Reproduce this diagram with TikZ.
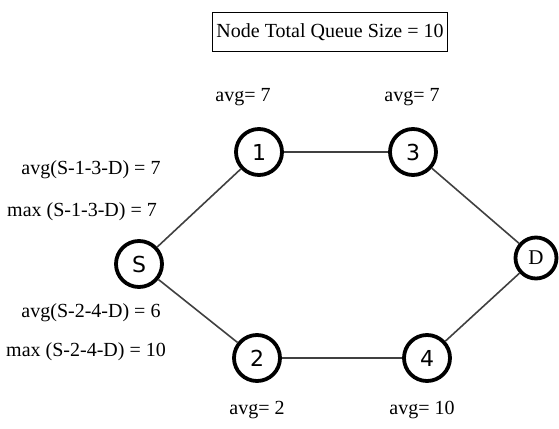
\documentclass[tikz,border=0pt]{standalone}
\usepackage{fontspec}
\setmainfont{Liberation Serif}
\newfontfamily\nodefont{DejaVu Sans}
\begin{document}
\begin{tikzpicture}[x=1pt,y=-1pt,
  vertex/.style={circle,draw=black,line width=3.8pt,minimum size=46pt,inner sep=0pt,
                 font=\nodefont\fontsize{22}{26}\selectfont},
  link/.style={draw=black!75,line width=1.6pt},
  lbl/.style={font=\fontsize{20}{24}\selectfont,inner sep=0pt},
  titlebox/.style={draw=black,line width=1.6pt,inner xsep=4pt,minimum height=39pt,
                   font=\fontsize{20}{24}\selectfont}]
\useasboundingbox (0,0) rectangle (559,428);

% title
\node[titlebox] (title) at (330,32) {Node Total Queue Size = 10};

% network nodes
\node[vertex] (S) at (139,264) {S};
\node[vertex] (n1) at (259,152) {1};
\node[vertex] (n3) at (413,152) {3};
\node[vertex] (n2) at (257,358) {2};
\node[vertex] (n4) at (427,358) {4};
\node[vertex,minimum size=41pt,font=\fontsize{21}{24}\selectfont] (D) at (536,258) {D};

% links
\draw[link] (S) -- (n1);
\draw[link] (S) -- (n2);
\draw[link] (n1) -- (n3);
\draw[link] (n2) -- (n4);
\draw[link] (n3) -- (D);
\draw[link] (n4) -- (D);

% per-node averages
\node[lbl] (a1) at (243,97) {avg= 7};
\node[lbl] (a3) at (412,97) {avg= 7};
\node[lbl] (a2) at (257,410) {avg= 2};
\node[lbl] (a4) at (422,410) {avg= 10};

% path statistics
\node[lbl] (p1) at (91,170) {avg(S-1-3-D) = 7};
\node[lbl] (p2) at (82,212) {max (S-1-3-D) = 7};
\node[lbl] (p3) at (91,313) {avg(S-2-4-D) = 6};
\node[lbl] (p4) at (86,352) {max (S-2-4-D) = 10};
\end{tikzpicture}
\end{document}
